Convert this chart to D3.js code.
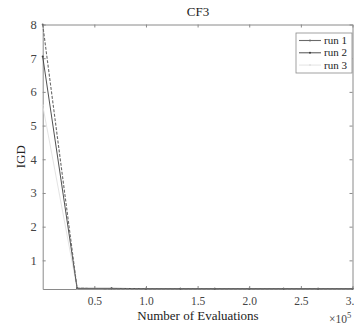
<!DOCTYPE html>
<html>
<head>
<meta charset="utf-8">
<script src="https://cdn.jsdelivr.net/npm/d3@7"></script>
<style>
  body { margin: 0; background: #fff; }
  svg { display: block; }
  .axis path, .axis line { stroke: #8a8a8a; }
</style>
</head>
<body>
<svg id="chart" width="354" height="328"></svg>
<script>
// evaluations (x 1e5)
const evals = [0, 0.3333, 0.6667, 1.0, 1.3333, 1.6667, 2.0, 2.3333, 2.6667, 3.0];
const run1 = [8.0, 0.17, 0.16, 0.16, 0.16, 0.16, 0.16, 0.16, 0.16, 0.16];
const run2 = [7.05, 0.17, 0.17, 0.16, 0.16, 0.16, 0.16, 0.16, 0.16, 0.16];
const run3 = [5.6, 0.16, 0.16, 0.16, 0.16, 0.16, 0.16, 0.16, 0.16, 0.16];
const runNames = ['run 1', 'run 2', 'run 3'];
const xTicks = [0.5, 1, 1.5, 2, 2.5, 3];
const yTicks = [1, 2, 3, 4, 5, 6, 7, 8];

const serif = '"Liberation Serif", "DejaVu Serif", serif';
const svg = d3.select('#chart').attr('font-family', serif);

const x = d3.scaleLinear().domain([0, 3]).range([42.7, 352.5]);
const y = d3.scaleLinear().domain([0.15, 8]).range([289, 24.5]);

const tk = 3;
const styleAxis = g => g.attr('font-family', serif)
  .call(g => g.selectAll('text').attr('fill', '#444'));
// bottom + top axes
svg.append('g').attr('class', 'axis').attr('transform', `translate(0,${y(0.15)})`)
  .call(d3.axisBottom(x).tickValues(xTicks).tickSize(-tk).tickPadding(8).tickSizeOuter(0))
  .call(styleAxis)
  .call(g => g.selectAll('text').attr('font-size', '11.5px'));
svg.append('g').attr('class', 'axis').attr('transform', `translate(0,${y(8)})`)
  .call(d3.axisTop(x).tickValues(xTicks).tickSize(-tk).tickFormat('').tickSizeOuter(0));
// left + right axes
svg.append('g').attr('class', 'axis').attr('transform', `translate(${x(0)},0)`)
  .call(d3.axisLeft(y).tickValues(yTicks).tickSize(-tk).tickPadding(6).tickSizeOuter(0))
  .call(styleAxis)
  .call(g => g.selectAll('text').attr('font-size', '12.5px'));
svg.append('g').attr('class', 'axis').attr('transform', `translate(${x(3)},0)`)
  .call(d3.axisRight(y).tickValues(yTicks).tickSize(-tk).tickFormat('').tickSizeOuter(0));

// series
const series = [
  { name: runNames[0], vals: run1, color: '#6a6a6a', dash: '3,1.5', w: 1.1 },
  { name: runNames[1], vals: run2, color: '#3c3c3c', dash: null, w: 0.9 },
  { name: runNames[2], vals: run3, color: '#e0e0e0', dash: null, w: 0.9 }
];
const line = d3.line().x((d, i) => x(evals[i])).y(d => y(d));
series.slice().reverse().forEach(s => {
  svg.append('path').datum(s.vals)
    .attr('fill', 'none').attr('stroke', s.color).attr('stroke-width', s.w)
    .attr('stroke-dasharray', s.dash).attr('d', line);
  svg.append('g').selectAll('circle').data(s.vals).join('circle')
    .attr('cx', (d, i) => x(evals[i])).attr('cy', d => y(d))
    .attr('r', 1).attr('fill', s.color);
});

// title and labels
svg.append('text').attr('x', 198).attr('y', 16).attr('text-anchor', 'middle')
  .attr('font-size', '13px').attr('fill', '#222').text('CF3');
svg.append('text').attr('x', 198).attr('y', 320).attr('text-anchor', 'middle')
  .attr('font-size', '13px').attr('fill', '#222').text('Number of Evaluations');
svg.append('text').attr('transform', `translate(25,${(y(8) + y(0.15)) / 2}) rotate(-90)`)
  .attr('text-anchor', 'middle').attr('font-size', '13px').attr('fill', '#222').text('IGD');
const mult = svg.append('text').attr('x', 329).attr('y', 323).attr('font-size', '11.5px').attr('fill', '#444');
mult.append('tspan').text('\u00d710');
mult.append('tspan').attr('dy', -5).attr('font-size', '8.5px').text('5');

// legend
const lg = svg.append('g').attr('transform', 'translate(296,33)');
lg.append('rect').attr('width', 56).attr('height', 40)
  .attr('fill', '#fff').attr('stroke', '#8a8a8a').attr('stroke-width', 0.8);
series.forEach((s, i) => {
  const yy = 7.5 + i * 12.3;
  lg.append('line').attr('x1', 3).attr('x2', 25).attr('y1', yy).attr('y2', yy)
    .attr('stroke', s.color).attr('stroke-width', s.w);
  lg.append('circle').attr('cx', 14).attr('cy', yy).attr('r', 1).attr('fill', s.color);
  lg.append('text').attr('x', 28).attr('y', yy + 3.5).attr('font-size', '11px')
    .attr('fill', '#222').text(s.name);
});
</script>
</body>
</html>
